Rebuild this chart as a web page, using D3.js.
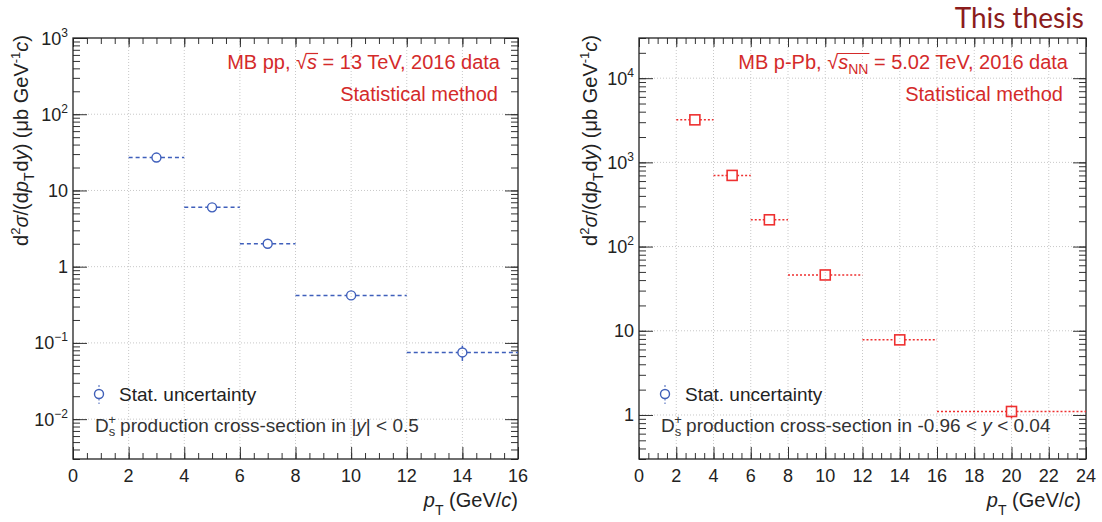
<!DOCTYPE html>
<html><head><meta charset="utf-8">
<script src="https://cdn.jsdelivr.net/npm/d3@7"></script>
<style>
body{margin:0;background:#fff}
svg{font-family:"Liberation Sans",Arial,Helvetica,sans-serif}
</style></head><body>
<svg id="c" width="1102" height="522"></svg>
<script>
// ---------- data ----------
const ppPt  = [3, 5, 7, 10, 14];
const ppLo  = [2, 4, 6, 8, 12];
const ppHi  = [4, 6, 8, 12, 16];
const ppVal = [27, 6.0, 2.0, 0.42, 0.075];
const ppErr = [3, 0.5, 0.15, 0.03, 0.017];

const pPbPt  = [3, 5, 7, 10, 14, 20];
const pPbLo  = [2, 4, 6, 8, 12, 16];
const pPbHi  = [4, 6, 8, 12, 16, 24];
const pPbVal = [3200, 700, 208, 46, 7.8, 1.1];
const pPbErr = [300, 60, 18, 4, 1.0, 0.2];

const ppYExp  = [-2, -1, 0, 1, 2, 3];
const pPbYExp = [0, 1, 2, 3, 4];
const ppXTicks  = [0, 2, 4, 6, 8, 10, 12, 14, 16];
const pPbXTicks = [0, 2, 4, 6, 8, 10, 12, 14, 16, 18, 20, 22, 24];

const svg = d3.select("#c");
const TXT = "#222";

function rich(textSel, parts) {
  // parts: [{t, it, sup, sub, fs, dx, cls}]
  let shift = 0;
  parts.forEach(p => {
    const ts = textSel.append("tspan").text(p.t);
    let target = 0;
    if (p.sup) target = -p.sup;
    if (p.sub) target = p.sub;
    if (target !== shift) { ts.attr("dy", target - shift); shift = target; }
    if (p.dx) ts.attr("dx", p.dx);
    if (p.it) ts.attr("font-style", "italic");
    if (p.fs) ts.attr("font-size", p.fs);
    if (p.cls) ts.attr("class", p.cls);
  });
  return textSel;
}

function panel(cfg) {
  const g = svg.append("g");
  const x = d3.scaleLinear().domain(cfg.xDom).range([cfg.x0, cfg.x1]);
  const y = d3.scaleLog().domain(cfg.yDom).range([cfg.y1, cfg.y0]);

  // grid
  const gx = cfg.xTicks.filter(v => v > cfg.xDom[0] && v < cfg.xDom[1]);
  g.selectAll(".gx").data(gx).join("line")
    .attr("x1", d => x(d)).attr("x2", d => x(d))
    .attr("y1", cfg.y0).attr("y2", cfg.y1)
    .attr("stroke", "#c8c8c8").attr("stroke-dasharray", "1,2");
  const gy = cfg.yExp.map(e => Math.pow(10, e)).filter(v => y(v) > cfg.y0 + 1 && y(v) < cfg.y1 - 1);
  g.selectAll(".gy").data(gy).join("line")
    .attr("x1", cfg.x0).attr("x2", cfg.x1)
    .attr("y1", d => y(d)).attr("y2", d => y(d))
    .attr("stroke", "#c8c8c8").attr("stroke-dasharray", "1,2");

  // axes via d3 with inward ticks
  const xMinor = d3.range(cfg.xDom[0], cfg.xDom[1] + 0.001, 0.5);
  const yMinor = [];
  for (let e = Math.floor(Math.log10(cfg.yDom[0])); e <= Math.ceil(Math.log10(cfg.yDom[1])); e++)
    for (let m = 1; m < 10; m++) {
      const v = m * Math.pow(10, e);
      if (v >= cfg.yDom[0] && v <= cfg.yDom[1]) yMinor.push(v);
    }
  const yMajor = cfg.yExp.map(e => Math.pow(10, e));
  const fmtNone = () => "";
  const axes = [
    [d3.axisBottom(x).tickValues(xMinor).tickSize(-6).tickFormat(fmtNone), `translate(0,${cfg.y1})`],
    [d3.axisBottom(x).tickValues(cfg.xTicks).tickSize(-12).tickFormat(fmtNone), `translate(0,${cfg.y1})`],
    [d3.axisTop(x).tickValues(xMinor).tickSize(-6).tickFormat(fmtNone), `translate(0,${cfg.y0})`],
    [d3.axisTop(x).tickValues(cfg.xTicks).tickSize(-9).tickFormat(fmtNone), `translate(0,${cfg.y0})`],
    [d3.axisLeft(y).tickValues(yMinor).tickSize(-7).tickFormat(fmtNone), `translate(${cfg.x0},0)`],
    [d3.axisLeft(y).tickValues(yMajor).tickSize(-14).tickFormat(fmtNone), `translate(${cfg.x0},0)`],
    [d3.axisRight(y).tickValues(yMinor).tickSize(-7).tickFormat(fmtNone), `translate(${cfg.x1},0)`],
    [d3.axisRight(y).tickValues(yMajor).tickSize(-13).tickFormat(fmtNone), `translate(${cfg.x1},0)`],
  ];
  axes.forEach(([ax, tr]) => {
    const a = g.append("g").attr("transform", tr).call(ax);
    a.select(".domain").remove();
    a.selectAll("line").attr("stroke", "#333").attr("stroke-width", 1);
  });
  g.append("rect").attr("x", cfg.x0).attr("y", cfg.y0)
    .attr("width", cfg.x1 - cfg.x0).attr("height", cfg.y1 - cfg.y0)
    .attr("fill", "none").attr("stroke", "#222").attr("stroke-width", 1.3);

  // tick labels
  g.selectAll(".xl").data(cfg.xTicks).join("text")
    .attr("x", d => x(d)).attr("y", cfg.y1 + 23)
    .attr("text-anchor", "middle").attr("font-size", 18).attr("fill", TXT)
    .text(d => d);
  cfg.yExp.forEach(e => {
    const t = g.append("text").attr("x", cfg.x0 - 5).attr("y", y(Math.pow(10, e)) + 6.5)
      .attr("text-anchor", "end").attr("font-size", 18).attr("fill", TXT);
    if (e === 0) t.text("1");
    else if (e === 1) t.text("10");
    else rich(t, [{t: "10"}, {t: (e < 0 ? "\u2212" : "") + Math.abs(e), sup: 8, fs: 12}]);
  });

  // axis titles
  const yt = g.append("text").attr("transform", `translate(${cfg.ytX},${cfg.y0 - 3}) rotate(-90)`)
    .attr("text-anchor", "end").attr("font-size", 20).attr("fill", TXT);
  rich(yt, [{t: "d"}, {t: "2", sup: 8, fs: 13}, {t: "\u03C3", it: true}, {t: "/(d"}, {t: "p", it: true},
            {t: "T", sub: 6, fs: 14}, {t: "d", dx: 1}, {t: "y", it: true}, {t: ") (\u03BCb GeV"}, {t: "-1", sup: 8, fs: 13},
            {t: "c", it: true}, {t: ")"}]);
  const xt = g.append("text").attr("x", cfg.xtX).attr("y", cfg.y1 + 48)
    .attr("text-anchor", "end").attr("font-size", 20).attr("fill", TXT);
  rich(xt, [{t: "p", it: true}, {t: "T", sub: 8, fs: 14}, {t: " (GeV/"}, {t: "c", it: true}, {t: ")"}]);

  // data
  const r = cfg.r;
  const d = cfg.pt.map((p, i) => ({p, lo: cfg.lo[i], hi: cfg.hi[i], v: cfg.val[i], e: cfg.err[i]}));
  const segs = [];
  d.forEach(o => {
    const cx = x(o.p), cy = y(o.v);
    if (x(o.lo) < cx - r) segs.push([x(o.lo), cy, cx - r, cy]);
    if (x(o.hi) > cx + r) segs.push([cx + r, cy, x(o.hi), cy]);
    const yu = y(o.v + o.e), yd = y(o.v - o.e);
    if (yu < cy - r) segs.push([cx, yu, cx, cy - r]);
    if (yd > cy + r) segs.push([cx, cy + r, cx, yd]);
  });
  g.selectAll(".seg").data(segs).join("line")
    .attr("x1", s => s[0]).attr("y1", s => s[1]).attr("x2", s => s[2]).attr("y2", s => s[3])
    .attr("stroke", cfg.color).attr("stroke-width", cfg.lw).attr("stroke-dasharray", cfg.dash);
  if (cfg.marker === "circle") {
    g.selectAll(".mk").data(d).join("circle")
      .attr("cx", o => x(o.p)).attr("cy", o => y(o.v)).attr("r", r)
      .attr("fill", "none").attr("stroke", cfg.color).attr("stroke-width", 1.4);
  } else {
    g.selectAll(".mk").data(d).join("rect")
      .attr("x", o => x(o.p) - r).attr("y", o => y(o.v) - r)
      .attr("width", 2 * r).attr("height", 2 * r)
      .attr("fill", "none").attr("stroke", cfg.color).attr("stroke-width", 1.6);
  }

  // legend
  const lx = cfg.legX, ly = cfg.y1 - 65;
  g.append("circle").attr("cx", lx).attr("cy", ly).attr("r", 4.5)
    .attr("fill", "none").attr("stroke", "#4060b8").attr("stroke-width", 1.4);
  g.append("line").attr("x1", lx).attr("x2", lx).attr("y1", ly - 9).attr("y2", ly - 4.5)
    .attr("stroke", "#4060b8").attr("stroke-dasharray", "2,2");
  g.append("line").attr("x1", lx).attr("x2", lx).attr("y1", ly + 4.5).attr("y2", ly + 10)
    .attr("stroke", "#4060b8").attr("stroke-dasharray", "2,2");
  g.append("text").attr("x", lx + 20).attr("y", ly + 6.5).attr("font-size", 19).attr("fill", TXT)
    .text("Stat. uncertainty");
  const dt = g.append("text").attr("x", lx - 4).attr("y", cfg.y1 - 27).attr("font-size", 19).attr("fill", "#333");
  rich(dt, [{t: "D"}, {t: "s", sub: 4, fs: 13}, {t: "+", sup: 8, fs: 13, dx: -7}, {t: " ", sub: 0.0001, dx: -1}]
    .concat(cfg.rangeText));

  // annotation
  const a1 = g.append("text").attr("x", cfg.annX1).attr("y", cfg.y0 + 31)
    .attr("text-anchor", "end").attr("font-size", 20).attr("fill", "#d42a2a");
  rich(a1, cfg.annParts);
  // radical overbar
  const rt = a1.select(".rad").node(), last = a1.selectAll(".radarg").nodes();
  if (rt && last.length) {
    const b1 = rt.getBBox();
    const b2 = last[last.length - 1].getBBox();
    g.append("line").attr("x1", b1.x + b1.width - 1).attr("x2", b2.x + b2.width + 1)
      .attr("y1", b1.y + 2.5).attr("y2", b1.y + 2.5)
      .attr("stroke", "#d42a2a").attr("stroke-width", 1.2);
  }
  g.append("text").attr("x", cfg.annX2).attr("y", cfg.y0 + 63)
    .attr("text-anchor", "end").attr("font-size", 20).attr("fill", "#d42a2a").text("Statistical method");
}

panel({
  x0: 73, x1: 518, y0: 38, y1: 459,
  xDom: [0, 16], yDom: [0.003, 1000],
  xTicks: ppXTicks, yExp: ppYExp,
  ytX: 28, xtX: 518,
  pt: ppPt, lo: ppLo, hi: ppHi, val: ppVal, err: ppErr,
  color: "#3f5fbb", dash: "4,3", lw: 1.5, marker: "circle", r: 4.5,
  legX: 99,
  rangeText: [{t: "production cross-section in |"}, {t: "y", it: true}, {t: "| < 0.5"}],
  annX1: 500, annX2: 498,
  annParts: [{t: "MB pp, "}, {t: "\u221A", cls: "rad"}, {t: "s", it: true, cls: "radarg"}, {t: " = 13 TeV, 2016 data"}]
});

panel({
  x0: 639, x1: 1086, y0: 38, y1: 459,
  xDom: [0, 24], yDom: [0.3, 30000],
  xTicks: pPbXTicks, yExp: pPbYExp,
  ytX: 597, xtX: 1081,
  pt: pPbPt, lo: pPbLo, hi: pPbHi, val: pPbVal, err: pPbErr,
  color: "#ee3030", dash: "2,2", lw: 1.5, marker: "square", r: 5,
  legX: 665,
  rangeText: [{t: "production cross-section in -0.96 < "}, {t: "y", it: true}, {t: " < 0.04"}],
  annX1: 1068, annX2: 1063,
  annParts: [{t: "MB p-Pb, "}, {t: "\u221A", cls: "rad"}, {t: "s", it: true, cls: "radarg"}, {t: "NN", sub: 5, fs: 14, cls: "radarg"}, {t: " = 5.02 TeV, 2016 data", sub: 0.0001}]
});

svg.append("text").attr("x", 1084).attr("y", 28).attr("text-anchor", "end")
  .attr("font-family", "Lato, 'DejaVu Sans', sans-serif").attr("font-size", 28)
  .attr("fill", "#8b1c1c").text("This thesis");
</script>
</body></html>
